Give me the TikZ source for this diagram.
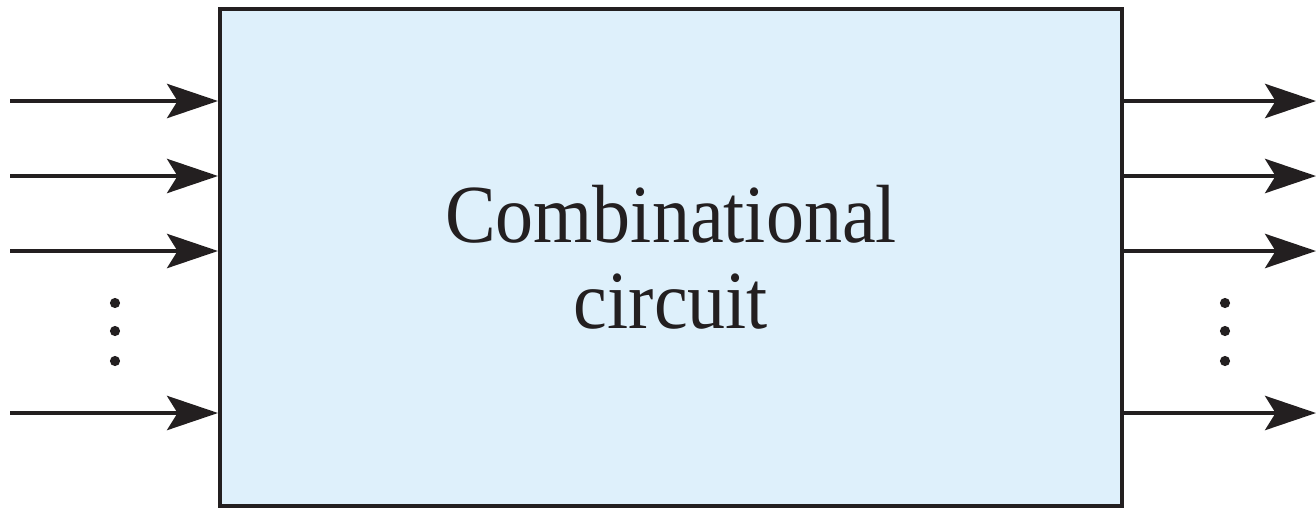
\documentclass[tikz,border=0pt]{standalone}
\usepackage{fontspec}
\setmainfont{Liberation Serif}
\newfontfamily\labelfont[FakeStretch=0.92]{Liberation Serif}
\usetikzlibrary{arrows.meta}
\definecolor{boxfill}{RGB}{222,240,251}
\definecolor{ink}{RGB}{35,31,32}
\begin{document}
\begin{tikzpicture}[x=0.02cm,y=-0.02cm,
  wire/.style={draw=ink,line width=2.1pt,-{Stealth[length=29pt,width=19.5pt,inset=6pt]}},
  blockbox/.style={draw=ink,line width=2.3pt,fill=boxfill,minimum width=902*0.02cm,minimum height=497*0.02cm,inner sep=0pt,
    font=\labelfont\fontsize{47pt}{49pt}\selectfont,align=center,text=ink},
  vdot/.style={circle,fill=ink,inner sep=0pt,minimum size=5.8pt}]
  \useasboundingbox (0,0) rectangle (1316,508);
  \node[blockbox] (cc) at (671,257.5) {Combinational\\circuit};
  % input and output lines
  \foreach \i/\y in {1/101,2/176,3/251,4/413} {
    \coordinate (in\i) at (10,\y);
    \coordinate (out\i) at (1316,\y);
    \draw[wire] (in\i) -- (in\i -| cc.west);
    \draw[wire] (in\i -| cc.east) -- (out\i);
  }
  % vertical ellipses
  \foreach \j/\y in {1/303,2/331,3/361} {
    \node[vdot] (ldot\j) at (115,\y) {};
    \node[vdot] (rdot\j) at (1225,\y) {};
  }
\end{tikzpicture}
\end{document}
